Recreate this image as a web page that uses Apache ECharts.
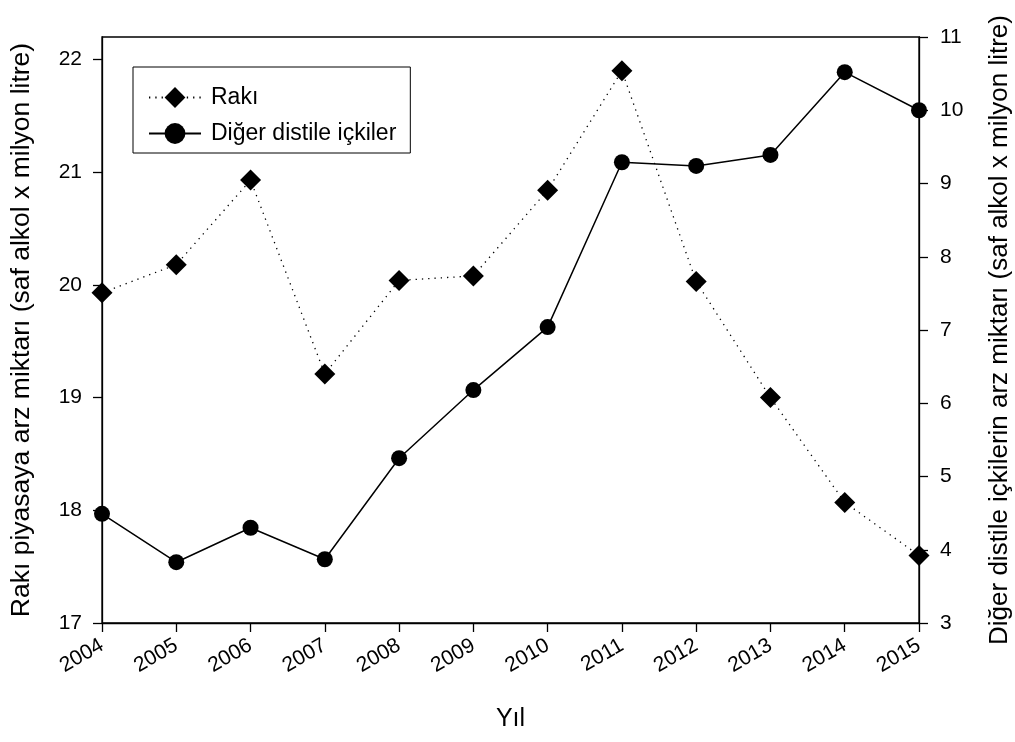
<!DOCTYPE html>
<html>
<head>
<meta charset="utf-8">
<script src="https://cdn.jsdelivr.net/npm/echarts@6/dist/echarts.min.js"></script>
<style>html,body{margin:0;padding:0;background:#fff;}#c{width:1015px;height:742px;}</style>
</head>
<body>
<div id="c"></div>
<script>
var years = ['2004','2005','2006','2007','2008','2009','2010','2011','2012','2013','2014','2015'];
var rakiValues = [19.93, 20.18, 20.93, 19.21, 20.04, 20.08, 20.84, 21.90, 20.03, 19.00, 18.07, 17.60];
var digerValues = [4.49, 3.83, 4.30, 3.87, 5.25, 6.18, 7.04, 9.29, 9.24, 9.39, 10.52, 10.00];
var leftTicks = [17, 18, 19, 20, 21, 22];
var rightTicks = [3, 4, 5, 6, 7, 8, 9, 10, 11];
var seriesNames = ['Rakı', 'Diğer distile içkiler'];
var xTitle = 'Yıl';
var leftTitle = 'Rakı piyasaya arz miktarı (saf alkol x milyon litre)';
var rightTitle = 'Diğer distile içkilerin arz miktarı (saf alkol x milyon litre)';

var FONT = 'Liberation Sans';
var chart = echarts.init(document.getElementById('c'), null, {renderer: 'canvas'});
chart.setOption({
  backgroundColor: '#fff',
  animation: false,
  textStyle: {fontFamily: FONT, color: '#000'},
  grid: {left: 102, right: 96, top: 37, bottom: 119, show: true, borderColor: '#000', borderWidth: 1.3,
         containLabel: false, outerBoundsMode: 'none'},
  legend: {
    left: 133, top: 67,
    orient: 'vertical',
    data: seriesNames,
    itemWidth: 52, itemHeight: 26, itemGap: 13,
    padding: [19, 14, 8, 15],
    borderColor: '#000', borderWidth: 1,
    textStyle: {fontFamily: FONT, fontSize: 23, color: '#000', padding: [0, 0, 0, 5]}
  },
  xAxis: {
    type: 'category', data: years, boundaryGap: false,
    name: xTitle, nameLocation: 'middle', nameGap: 84,
    nameTextStyle: {fontFamily: FONT, fontSize: 25, color: '#000'},
    axisLine: {lineStyle: {color: '#000', width: 1.3}},
    axisTick: {show: true, inside: false, length: 9, lineStyle: {color: '#000', width: 1.3}},
    axisLabel: {rotate: 30, fontSize: 21, color: '#000', fontFamily: FONT, margin: 21, interval: 0},
    splitLine: {show: false}
  },
  yAxis: [{
    type: 'value', position: 'left', min: 17, max: 22.2, interval: 1,
    name: leftTitle, nameLocation: 'middle', nameGap: 67, nameRotate: 90,
    nameTextStyle: {fontFamily: FONT, fontSize: 26.5, color: '#000'},
    axisLine: {show: true, lineStyle: {color: '#000', width: 1.3}},
    axisTick: {show: true, length: 9, lineStyle: {color: '#000', width: 1.3}, customValues: leftTicks},
    axisLabel: {fontSize: 21, color: '#000', fontFamily: FONT, margin: 20, customValues: leftTicks},
    splitLine: {show: false}
  }, {
    type: 'value', position: 'right', min: 3, max: 11, interval: 1,
    name: rightTitle, nameLocation: 'middle', nameGap: 68, nameRotate: 90,
    nameTextStyle: {fontFamily: FONT, fontSize: 26, color: '#000'},
    axisLine: {show: true, lineStyle: {color: '#000', width: 1.3}},
    axisTick: {show: true, length: 9, lineStyle: {color: '#000', width: 1.3}, customValues: rightTicks},
    axisLabel: {fontSize: 21, color: '#000', fontFamily: FONT, margin: 21, customValues: rightTicks},
    splitLine: {show: false}
  }],
  series: [{
    name: seriesNames[0], type: 'line', yAxisIndex: 0, data: rakiValues,
    symbol: 'diamond', symbolSize: [21, 21],
    itemStyle: {color: '#000'},
    lineStyle: {color: '#000', width: 1.3, type: [1.3, 5]},
    z: 3
  }, {
    name: seriesNames[1], type: 'line', yAxisIndex: 1, data: digerValues,
    symbol: 'circle', symbolSize: 16,
    itemStyle: {color: '#000'},
    lineStyle: {color: '#000', width: 1.5, type: 'solid'},
    z: 3
  }]
});
</script>
</body>
</html>
